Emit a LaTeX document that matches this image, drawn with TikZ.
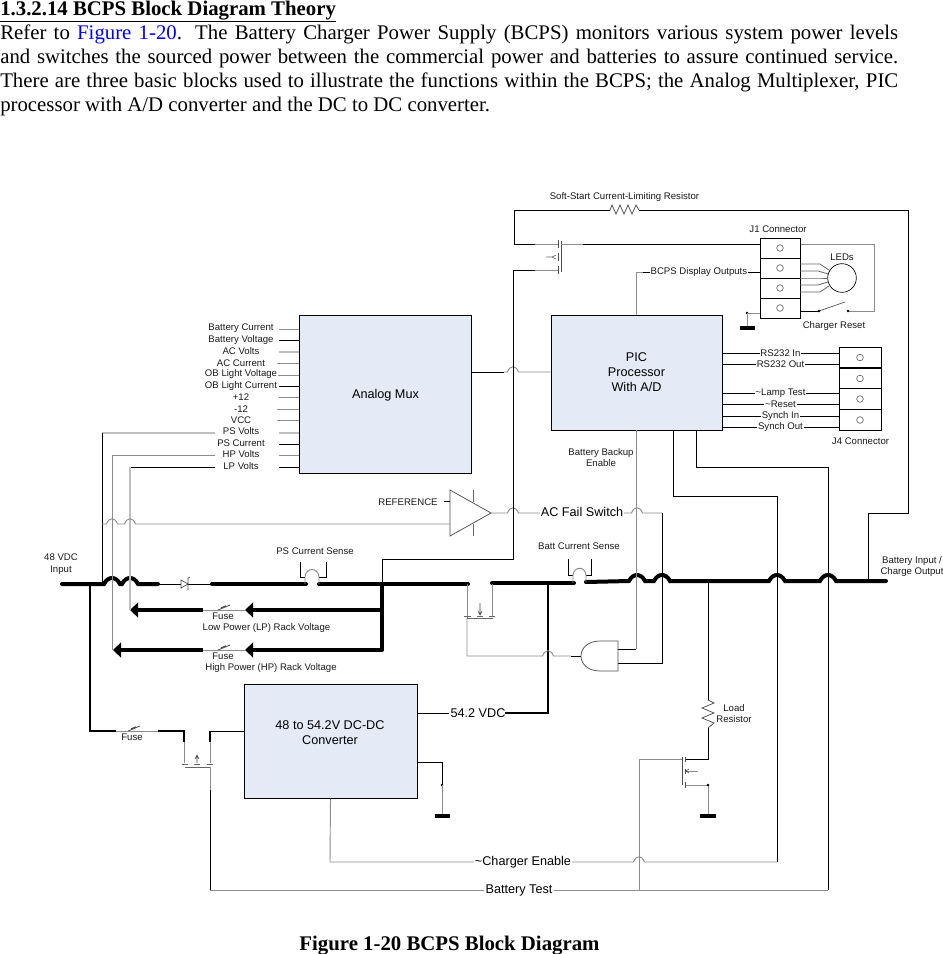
\documentclass[tikz,border=0pt]{standalone}
\usepackage{fontspec}
\setmainfont{Liberation Serif}
\newfontfamily\diagfont{Liberation Sans}
\usetikzlibrary{arrows.meta}
\definecolor{blockfill}{HTML}{E4EBF6}
\definecolor{linkblue}{HTML}{0000FF}
\newcommand{\hj}[2]{-- ({#1-5.5},#2) .. controls ({#1-3},{#2-7}) and ({#1+3},{#2-7}) .. ({#1+5.5},#2)}
\newcommand{\bj}[2]{-- ({#1-8},#2) .. controls ({#1-4},{#2-8}) and ({#1+4},{#2-8}) .. ({#1+8},#2)}
\tikzset{
  wire/.style={draw=black,line width=0.75pt},
  graywire/.style={draw=black!45,line width=0.7pt},
  palewire/.style={draw=black!25,line width=1pt},
  bus/.style={draw=black,line width=3pt,line cap=round},
  midbus/.style={draw=black,line width=1.5pt},
  blockbox/.style={draw=black,line width=0.75pt,fill=blockfill,align=center,inner sep=0pt,font=\diagfont\fontsize{9.5}{11.2}\selectfont},
  cellbox/.style={draw=black,line width=0.75pt,inner sep=0pt,minimum width=30pt},
  pin/.style={circle,draw=black!70,line width=0.4pt,minimum size=5pt,inner sep=0pt},
  dot/.style={circle,fill=black,minimum size=2pt,inner sep=0pt},
  lbl/.style={font=\diagfont\fontsize{7.2}{8.5}\selectfont,align=center,inner sep=0.5pt,text=black!90,yshift=-0.6pt},
  onwire/.style={font=\diagfont\fontsize{7.2}{8.5}\selectfont,align=center,text=black!90,fill=white,inner sep=0.6pt},
  biglbl/.style={font=\diagfont\fontsize{9.5}{10}\selectfont,inner sep=0.6pt},
  gndbar/.style={draw=black,line width=2.4pt},
  arrowbus/.style={draw=black,line width=3pt,-{Triangle[length=6pt,width=11pt]}},
  fusemark/.style={draw=black!70,line width=0.6pt},
  txt/.style={inner sep=0pt,anchor=base west,font=\fontsize{15.6}{18}\selectfont}
}
\begin{document}
\begin{tikzpicture}[x=0.75pt,y=-0.75pt]
\useasboundingbox (0,0) rectangle (943,954);

% ---------- text above and below ----------
\node[txt] (head) at (0,15) {\textbf{\underline{1.3.2.14 BCPS Block Diagram Theory}}};
\node[txt] (l1) at (0,39) {\makebox[673.5pt][s]{Refer to \textcolor{linkblue}{Figure 1-20}.  The Battery Charger Power Supply (BCPS) monitors various system power levels}};
\node[txt] (l2) at (0,63) {\makebox[673.5pt][s]{and switches the sourced power between the commercial power and batteries to assure continued service.}};
\node[txt] (l3) at (0,87) {\makebox[673.5pt][s]{There are three basic blocks used to illustrate the functions within the BCPS; the Analog Multiplexer, PIC}};
\node[txt] (l4) at (0,111) {processor with A/D converter and the DC to DC converter.};
\node[font=\bfseries\fontsize{15.6}{18}\selectfont,inner sep=0pt] (cap) at (449.5,945.5) {Figure 1-20 BCPS Block Diagram};

% ---------- blocks ----------
\node[blockbox,minimum width=129pt,minimum height=118.5pt] (mux) at (385.5,394) {};
\node[font=\diagfont\fontsize{9.5}{11.2}\selectfont,inner sep=0pt] (muxtxt) at (385.5,394.8) {Analog Mux};
\node[blockbox,minimum width=128.25pt,minimum height=86.25pt] (pic) at (636.5,372.5) {PIC\\Processor\\With A/D};
\node[blockbox,minimum width=129.75pt,minimum height=85.5pt,text depth=0pt] (conv) at (330.5,741) {};
\node[font=\diagfont\fontsize{9.5}{11.2}\selectfont,align=center,inner sep=0pt] (convtxt) at (330,733) {48 to 54.2V DC-DC\\Converter};

\foreach \i/\y in {1/248,2/268,3/288,4/308}{
  \node[cellbox,minimum height=15pt] (ja\i) at (780,\y) {};
  \node[pin] (jap\i) at (780,\y) {};
}
\foreach \i/\y in {1/357.5,2/378.5,3/399,4/420}{
  \node[cellbox,minimum width=31.5pt,minimum height=15.6pt] (jb\i) at (860,\y) {};
  \node[pin] (jbp\i) at (860,\y) {};
}
\node[circle,draw=black,line width=0.5pt,minimum size=21.5pt,inner sep=0pt] (led) at (842,278) {};

% ---------- main bus ----------
\coordinate (b0) at (62,584);
\coordinate (b1) at (158,584);
\draw[bus] (b0) \bj{112}{584} \bj{130}{584} -- (b1);
\draw[wire] (b1) -- (181,584);
\draw[wire] (188,584) -- (212,584);
\draw[draw=black!70,line width=0.5pt] (181,580) -- (181,588) -- (188,584) -- cycle (188,578) -- (188,590) (188,578) -- (190,577);
\draw[bus] (212,584) -- (306,584);
\draw[bus] (319,584) -- (468,584);
\draw[bus] (492,583) -- (574,583);
\draw[bus] (586,582) \bj{637}{581} \bj{662}{581} \bj{777}{581} \bj{828}{581} -- (886,581);
\draw[bus] (382,584) -- (382,650);
% current-sense loops
\draw[wire] (300,562) -- (300,577) -- (305,577);
\draw[wire] (326,562) -- (326,577) -- (319,577);
\draw[graywire] (305,584) -- (305,577) .. controls (306,567) and (318,567) .. (319,577) -- (319,584);
\draw[wire] (568,559) -- (568,575) -- (573,575);
\draw[wire] (591,559) -- (591,575) -- (586,575);
\draw[graywire] (573,583) -- (573,575) .. controls (574,566) and (585,566) .. (586,575) -- (586,582);

% rack outputs
\coordinate (lpa) at (382,610);
\coordinate (hpa) at (382,650);
\draw[arrowbus] (lpa) -- (245,610);
\draw[graywire] (245,610) -- (203,610);
\draw[arrowbus] (203,610) -- (130,610);
\draw[arrowbus] (hpa) -- (245,650);
\draw[graywire] (245,650) -- (203,650);
\draw[arrowbus] (203,650) -- (113,650);
\foreach \fx/\fy in {223/610,223/650,133/731}{
  \draw[fusemark] (\fx-5,\fy) -- (\fx+7,\fy-5);
  \draw[draw=black!70,line width=1pt] (\fx-2,\fy-2) -- (\fx+3,\fy-4);
}
\node[lbl] (fa) at (223,615) {Fuse};
\node[lbl] (fb) at (223,655) {Fuse};
\node[lbl] (fc) at (132,736) {Fuse};
\node[lbl] (lpl) at (266.5,627) {Low Power (LP) Rack Voltage};
\node[lbl] (hpl) at (271,667) {High Power (HP) Rack Voltage};

% ---------- analog mux inputs ----------
\foreach \n/\t/\ty/\sy/\st/\sx in {
  a/Battery Current/327/329/graywire/279,
  b/Battery Voltage/339/340/wire/279,
  c/AC Volts/350/352/palewire/279,
  d/AC Current/362/363/graywire/277,
  e/OB Light Voltage/373/375/graywire/278,
  f/OB Light Current/385/386/wire/279,
  g/+12/396/397/graywire/279,
  h/-12/408/409/graywire/277,
  i/VCC/419/420/graywire/277,
  j/PS Volts/430/433/palewire/279,
  k/PS Current/442/444/wire/279,
  l/HP Volts/453/455/graywire/279,
  m/LP Volts/465/467/wire/279}{
  \node[lbl] (ml\n) at (241,\ty) {\t};
  \draw[\st] (\sx,\sy) -- (mux.west |- 0,\sy);
}
\coordinate (psv) at (215,433);
\coordinate (hpv) at (215,455);
\coordinate (lpv) at (215,467);
\draw[palewire] (psv) -- (102,433);
\draw[wire] (102,433) -- (102,584);
\draw[graywire] (hpv) -- (112,455) -- (112,650);
\draw[wire] (lpv) -- (130,467);
\draw[palewire] (130,467) -- (130,610);

% ---------- comparator ----------
\coordinate (cin) at (450,524);
\coordinate (cout) at (491,513);
\draw[draw=black!70,line width=0.55pt] (450,490) -- (cout) -- (450,536) -- cycle;
\draw[draw=black!60,line width=0.5pt] (473,490) -- (473,502) (473,524) -- (473,536);
\node[lbl] (refl) at (408,501) {REFERENCE};
\draw[wire] (444,501) -- (450,501);
\draw[graywire] (102,524) \hj{112}{524} \hj{130}{524} -- (cin);
\node[biglbl] (acl) at (582,511.5) {AC Fail Switch};
\draw[graywire] (cout) \hj{513}{513} -- (acl.west |- 0,513);
\draw[graywire] (acl.east |- 0,513) \hj{637}{513} -- (662,513);
\draw[wire] (662,513) -- (662,663) -- (618,663);

% ---------- wiring around PIC ----------
\draw[wire] (mux.east |- 0,372) -- (504,372);
\draw[graywire] (504,372) \hj{513}{372} -- (pic.west |- 0,372);
\draw[graywire] (636,430) -- (636,649);
\draw[wire] (636,649) -- (618,649);
\draw[graywire] (636,315) -- (636,272) -- (643,272);
\draw[wire] (643,272) -- node[onwire,pos=0.48] (bd) {BCPS Display Outputs} (ja2.west |- 0,272);
\foreach \n/\t/\y in {a/RS232 In/353,b/RS232 Out/364,c/{\textasciitilde Lamp Test}/393,d/{\textasciitilde Reset}/404,e/Synch In/416,f/Synch Out/427}{
  \draw[wire] (pic.east |- 0,\y) -- node[onwire,pos=0.5] (rs\n) {\t} (jb1.west |- 0,\y);
}
\draw[wire] (673,430) -- (673,496) -- (777,496) -- (777,862);
\draw[wire] (696,430) -- (696,467) -- (828,467) -- (828,890);
\draw[wire] (868,581) -- (868,513) -- (908,513) -- (908,210) -- (639,210);
\draw[draw=black!70,line width=0.55pt] (639,210) -- (636,205) -- (632,214) -- (628,205) -- (624,214) -- (620,205) -- (616,214) -- (612,205) -- (610,210);
\draw[wire] (610,210) -- (514,210) -- (514,244) -- (535,244);
\draw[graywire] (535,244) -- (558,244);
% soft-start FET
\draw[draw=black!70,line width=0.5pt] (558,240) -- (558,248) (558,253) -- (558,261) (558,266) -- (558,274) (561,241) -- (561,272);
\draw[draw=black!60,line width=0.5pt] (546,257) -- (552,257) (556,255) -- (552,257) -- (556,259);
\draw[graywire] (561,244) -- (583,244);
\draw[wire] (583,244) -- (ja1.west |- 0,244);
\draw[wire] (382,584) -- (382,559) -- (513,559) -- (513,270) -- (535,270);
\draw[graywire] (535,270) -- (558,270);

% ---------- J1 side ----------
\draw[graywire] (ja1.east |- 0,244) -- (874,244) -- (874,311) -- (848,311);
\draw[wire] (ja4.east |- 0,311) -- (819,311);
\draw[draw=black!70,line width=0.5pt] (819,311) -- (845,302);
\node[dot] (swa) at (819,311) {};
\node[dot] (swb) at (848,311) {};
\foreach \ya/\xb/\xc/\yc in {264/820/829/270,271/818/828/274,278/818/828/278,285/818/828/282,292/820/829/286}{
  \draw[draw=black!60,line width=0.6pt] (800,\ya) -- (\xb,\ya) -- (\xc,\yc);
}
\draw[graywire] (ja4.west |- 0,313) -- (747,313);
\node[dot] (gd1) at (747,313) {};
\draw[graywire] (747,313) -- (747,328);
\draw[gndbar] (740,328) -- (755,328);

% ---------- labels ----------
\node[lbl] (ssl) at (624.5,196) {Soft-Start Current-Limiting Resistor};
\node[lbl] (j1l) at (778,228) {J1 Connector};
\node[lbl] (ledl) at (842,256) {LEDs};
\node[lbl] (crl) at (834,325) {Charger Reset};
\node[lbl] (j4l) at (860.5,440) {J4 Connector};
\node[lbl] (bbl) at (601,456.5) {Battery Backup\\Enable};
\node[lbl] (in48) at (61,563.5) {48 VDC\\Input};
\node[lbl] (psl) at (315,550) {PS Current Sense};
\node[lbl] (btl) at (579,545) {Batt Current Sense};
\node[lbl] (bil) at (912,565.5) {Battery Input /\\Charge Output};
\node[lbl] (lrl) at (734,712.5) {Load\\Resistor};

% ---------- charger path ----------
\draw[midbus] (548,583) -- (548,713) -- (505,713);
\node[biglbl] (v54) at (478,713) {54.2 VDC};
\draw[wire] (conv.east |- 0,713) -- (v54.west);
\draw[graywire] (467,584) -- (467,618) (492,584) -- (492,616);
\draw[draw=black!60,line width=0.5pt] (464,616) -- (471,616) (489,616) -- (495,616) (477,616) -- (483,616) (467,618.5) -- (493,618.5);
\draw[draw=black!70,line width=0.5pt] (480,603) -- (480,615) (478,611) -- (480,615) -- (482,611);
\draw[graywire] (467,618) -- (467,656) \hj{548}{656} -- (571,656);
\draw[wire] (571,656) -- (581,656);
\draw[draw=black!70,line width=0.55pt] (618,641) -- (600,641) .. controls (588,641) and (581,648) .. (581,656) .. controls (581,664) and (588,671) .. (600,671) -- (618,671) -- cycle;

% converter input
\draw[midbus] (90,584) -- (90,731) -- (116,731);
\draw[graywire] (116,731) -- (158,731);
\draw[midbus] (158,731) -- (184,731) -- (184,742);
\draw[graywire] (184,742) -- (184,763) (210,742) -- (210,763);
\draw[midbus] (210,742) -- (210,731);
\draw[wire] (210,731) -- (conv.west |- 0,731);
\draw[draw=black!60,line width=0.5pt] (182,764) -- (188,764) (194,764) -- (200,764) (207,764) -- (213,764) (185,767.5) -- (210,767.5);
\draw[draw=black!70,line width=0.5pt] (197,755) -- (197,763) (195,759) -- (197,755) -- (199,759);
\draw[graywire] (210,767) -- (210,790);
\draw[wire] (210,790) -- (210,890);
\node[biglbl] (btst) at (519,890.5) {Battery Test};
\draw[graywire] (210,890) -- (btst.west |- 0,890);
\draw[graywire] (btst.east |- 0,890) -- (828,890);
\draw[graywire] (639,890) -- (639,759) -- (682,759);
\draw[draw=black!70,line width=0.5pt] (682,757) -- (682,785);
\draw[draw=black!70,line width=0.5pt] (685,757) -- (685,762) (685,769) -- (685,774) (685,782) -- (685,788);

% converter outputs
\draw[wire] (conv.east |- 0,762) -- (442,762) -- (442,785);
\node[dot] (gd2) at (442,785) {};
\draw[graywire] (442,785) -- (442,816);
\draw[gndbar] (435,816) -- (450,816);
\node[biglbl] (cen) at (523,862) {\textasciitilde Charger Enable};
\draw[graywire] (conv.south) -- (330,862) -- (cen.west |- 0,862);
\draw[graywire] (cen.east |- 0,862) \hj{639}{862} -- (777,862);

% load path
\draw[wire] (708,581) -- (708,700);
\draw[draw=black!70,line width=0.55pt] (708,700) -- (714,703) -- (702,708) -- (714,713) -- (702,718) -- (714,723) -- (708,728);
\draw[wire] (708,728) -- (708,759) -- (686,759);
\draw[graywire] (686,785) -- (708,785) -- (708,816);
\node[dot] (gd3) at (708,785) {};
\draw[gndbar] (700,816) -- (716,816);
\draw[graywire] (686,771) -- (698,771);
\draw[draw=black!70,line width=0.5pt] (689,769) -- (686,771) -- (689,773);
\end{tikzpicture}
\end{document}
